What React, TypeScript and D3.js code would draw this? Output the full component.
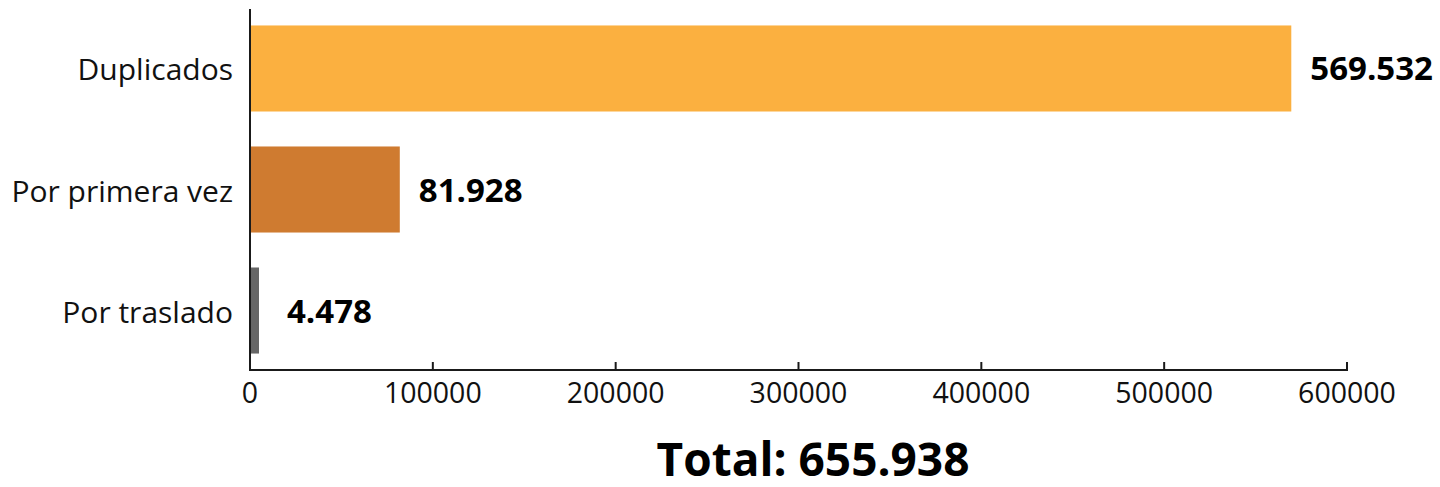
import React from "react";
import * as d3 from "d3";

const categories = ["Duplicados", "Por primera vez", "Por traslado"];
const values = [569532, 81928, 4478];
const valueLabels = ["569.532", "81.928", "4.478"];
const colors = ["#FBB040", "#CF7B30", "#666666"];
const xTicks = [0, 100000, 200000, 300000, 400000, 500000, 600000];
const totalLabel = "Total: 655.938";

const W = 1440;
const H = 487;
const left = 250;
const right = 1347;
const top = 9;
const bottom = 370;
const FONT = "'Open Sans', 'Noto Sans', sans-serif";

export default function App() {
  const x = d3.scaleLinear().domain([0, 600000]).range([left, right]);
  const y = d3
    .scaleBand<string>()
    .domain(categories)
    .range([top, bottom])
    .paddingInner(0.289)
    .paddingOuter(0.136);

  return (
    <svg
      width={W}
      height={H}
      style={{ position: "absolute", left: 0, top: 0, background: "#fff" }}
    >
      {categories.map((c, i) => {
        const y0 = y(c)!;
        const bw = y.bandwidth();
        const cy = y0 + bw / 2;
        return (
          <g key={c}>
            <rect
              x={x(0)}
              y={y0}
              width={Math.max(x(values[i]) - x(0), 9)}
              height={bw}
              fill={colors[i]}
            />
            <text
              x={left - 17}
              y={cy + 12}
              textAnchor="end"
              fontFamily={FONT}
              fontSize={30}
              fill="#111"
            >
              {c}
            </text>
            <text
              x={Math.max(x(values[i]), x(0) + 18) + 19}
              y={cy + 12}
              fontFamily={FONT}
              fontWeight="bold"
              fontSize={33}
              fill="#000"
            >
              {valueLabels[i]}
            </text>
          </g>
        );
      })}
      {/* axes */}
      <line x1={left} x2={left} y1={top} y2={bottom + 1} stroke="#1a1a1a" strokeWidth={2} />
      <line x1={left} x2={right + 1} y1={bottom} y2={bottom} stroke="#1a1a1a" strokeWidth={2} />
      {xTicks.map((t) => (
        <g key={t}>
          {t !== 0 && (
            <line x1={x(t)} x2={x(t)} y1={bottom} y2={bottom - 8} stroke="#1a1a1a" strokeWidth={2} />
          )}
          <text
            x={x(t)}
            y={bottom + 33}
            textAnchor="middle"
            fontFamily={FONT}
            fontSize={28.5}
            fill="#111"
          >
            {t}
          </text>
        </g>
      ))}
      <text
        x={813}
        y={476}
        textAnchor="middle"
        fontFamily={FONT}
        fontWeight="bold"
        fontSize={46}
        fill="#000"
      >
        {totalLabel}
      </text>
    </svg>
  );
}
